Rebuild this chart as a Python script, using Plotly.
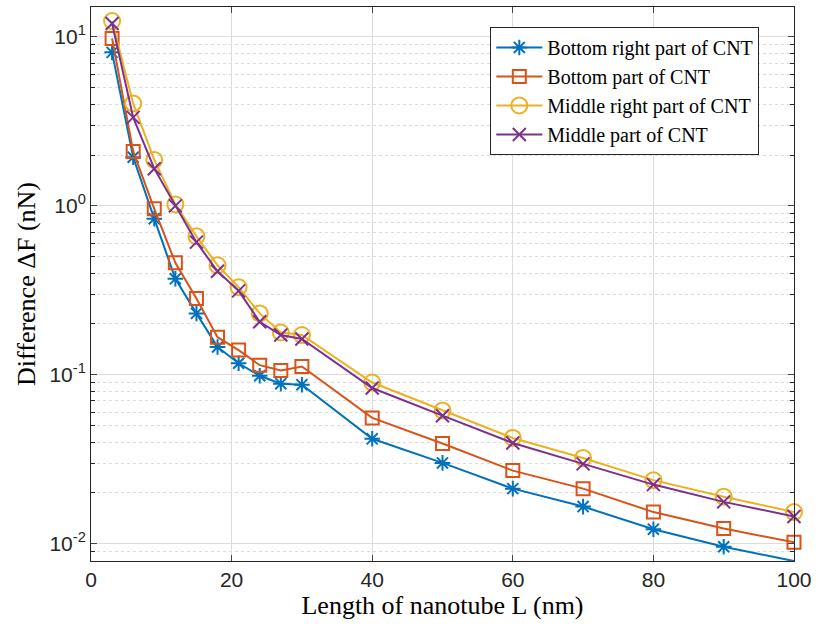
import plotly.graph_objects as go

L = [3, 6, 9, 12, 15, 18, 21, 24, 27, 30, 40, 50, 60, 70, 80, 90, 100]
bottom_right = [8.1, 1.94, 0.84, 0.37, 0.231, 0.146, 0.117, 0.0987, 0.0886, 0.0874,
                0.0418, 0.0301, 0.0212, 0.0166, 0.0122, 0.0096, 0.0079]
bottom = [9.8, 2.10, 0.96, 0.46, 0.283, 0.167, 0.140, 0.114, 0.106, 0.112,
          0.0556, 0.0392, 0.0271, 0.0212, 0.0154, 0.0123, 0.0102]
middle_right = [12.4, 4.04, 1.87, 1.02, 0.66, 0.445, 0.33, 0.231, 0.178, 0.172,
                0.090, 0.0614, 0.0423, 0.0322, 0.0238, 0.0190, 0.0154]
middle = [12.0, 3.34, 1.66, 1.0, 0.61, 0.41, 0.314, 0.206, 0.172, 0.163,
          0.0835, 0.0573, 0.0395, 0.0297, 0.0224, 0.0177, 0.0145]

names = ["Bottom right part of CNT", "Bottom part of CNT",
         "Middle right part of CNT", "Middle part of CNT"]
series = [bottom_right, bottom, middle_right, middle]
colors = ["#0072BD", "#D95319", "#EDB120", "#7E2F8E"]
symbols = ["asterisk-open", "square-open", "circle-open", "x-thin-open"]
msizes = [13, 13, 16, 13]

x_ticks = [0, 20, 40, 60, 80, 100]
y_ticks = [0.01, 0.1, 1, 10]
y_ticktext = ["10<sup>-2</sup>", "10<sup>-1</sup>", "10<sup>0</sup>", "10<sup>1</sup>"]
y_minor = [0.008, 0.009] + [k * 0.01 for k in range(2, 10)] + [k * 0.1 for k in range(2, 10)] + \
          [k * 1.0 for k in range(2, 10)]

fig = go.Figure()
for name, ys, c, s, ms in zip(names, series, colors, symbols, msizes):
    fig.add_trace(go.Scatter(
        x=L, y=ys, name=name, mode="lines+markers",
        line=dict(color=c, width=2),
        marker=dict(symbol=s, size=ms, color=c, line=dict(color=c, width=2)),
        cliponaxis=False,
    ))

axis_col = "#262626"
fig.update_layout(
    width=818, height=632,
    margin=dict(l=91, r=21, t=6, b=71),
    plot_bgcolor="white", paper_bgcolor="white",
    font=dict(family="Liberation Sans, Arial", color=axis_col, size=21),
    legend=dict(
        x=0.568, y=0.964, xanchor="left", yanchor="top",
        bgcolor="white", bordercolor=axis_col, borderwidth=1,
        font=dict(family="Liberation Serif, Times New Roman", size=20, color="black"),
        tracegroupgap=0, itemwidth=46,
    ),
    showlegend=True,
)
fig.update_xaxes(
    range=[0, 100], tickvals=x_ticks, ticks="inside", ticklen=6,
    showline=True, linecolor=axis_col, linewidth=1, mirror="ticks",
    showgrid=True, gridcolor="#dcdcdc", gridwidth=1, zeroline=False,
    tickfont=dict(size=21),
    title=dict(text="Length of nanotube L (nm)",
               font=dict(family="Liberation Serif, Times New Roman", size=26, color="black"),
               standoff=4),
)
fig.update_yaxes(
    type="log", range=[-2.102, 1.177],
    tickvals=y_ticks, ticktext=y_ticktext, ticks="inside", ticklen=6,
    showline=True, linecolor=axis_col, linewidth=1, mirror="ticks",
    showgrid=True, gridcolor="#dcdcdc", gridwidth=1, zeroline=False,
    minor=dict(tickvals=y_minor, ticks="inside", ticklen=4, showgrid=True,
               gridcolor="#dadada", griddash="dot", gridwidth=1, tickcolor=axis_col),
    tickfont=dict(size=21),
    title=dict(text="Difference ΔF (nN)",
               font=dict(family="Liberation Serif, Times New Roman", size=26, color="black"),
               standoff=6),
)

fig.write_html("out.html")
